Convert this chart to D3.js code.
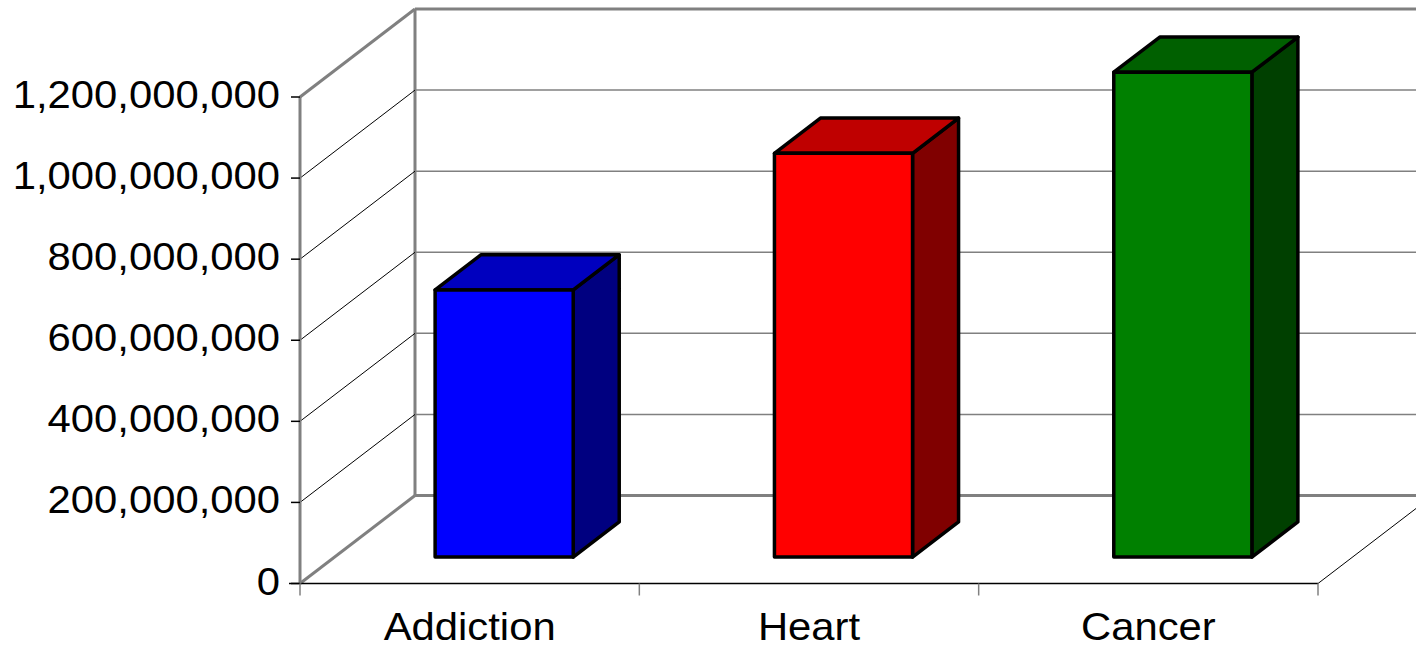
<!DOCTYPE html>
<html>
<head>
<meta charset="utf-8">
<script src="https://cdn.jsdelivr.net/npm/d3@7"></script>
<style>
  body { margin: 0; background: #fff; }
  svg { display: block; }
  text { font-family: "Liberation Sans", Arial, sans-serif; font-size: 38px; fill: #000; }
</style>
</head>
<body>
<div id="chart"></div>
<script>
// data
var categories = ["Addiction", "Heart", "Cancer"];
var values = [659000000, 996000000, 1196000000];
var yTicks = [0, 200000000, 400000000, 600000000, 800000000, 1000000000, 1200000000];
var frontColors = ["#0000ff", "#ff0000", "#008000"];
var topColors = ["#0000bf", "#bf0000", "#006000"];
var sideColors = ["#000080", "#800000", "#004000"];

var width = 1416, height = 647;
var depth = [115, -88]; // full depth vector of the plot box
var barFront = 0.3, barBack = 0.7; // bar position inside the depth

var svg = d3.select("#chart").append("svg")
    .attr("width", width)
    .attr("height", height);

var y = d3.scaleLinear().domain([0, 1200000000]).range([583.5, 97]);
var xCat = d3.scaleBand().domain(categories).range([300, 1318]);
var xBar = d3.scaleBand().domain(categories).range([300, 1318])
    .paddingInner(0.593).paddingOuter(0.2965);

var fmt = d3.format(",");
var gray = "#808080";

// ============================================================
// back wall
var wall = svg.append("g");
var backLeft = 300 + depth[0];
var backRight = 1318 + depth[0];
wall.selectAll(".grid")
    .data(yTicks.slice(1, -1))
    .enter()
    .append("line")
    .attr("x1", backLeft).attr("x2", backRight)
    .attr("y1", (d) => y(d) + depth[1]).attr("y2", (d) => y(d) + depth[1])
    .attr("stroke", gray).attr("stroke-width", 1.5);

// top and floor edges of back wall
[0, 1200000000].forEach(function(v) {
    wall.append("line")
        .attr("x1", backLeft).attr("x2", backRight)
        .attr("y1", y(v) + depth[1]).attr("y2", y(v) + depth[1])
        .attr("stroke", gray).attr("stroke-width", 3);
});
wall.append("line")
    .attr("x1", backLeft).attr("x2", backLeft)
    .attr("y1", y(1200000000) + depth[1]).attr("y2", y(0) + depth[1])
    .attr("stroke", gray).attr("stroke-width", 3);

// side wall diagonals
wall.selectAll(".diag")
    .data(yTicks)
    .enter()
    .append("line")
    .attr("x1", 300).attr("y1", (d) => y(d))
    .attr("x2", backLeft).attr("y2", (d) => y(d) + depth[1])
    .attr("stroke", (d, i) => (i == 0 || i == yTicks.length - 1) ? gray : "#000")
    .attr("stroke-width", (d, i) => (i == 0 || i == yTicks.length - 1) ? 3 : 1);

// floor right edge
wall.append("line")
    .attr("x1", 1318).attr("y1", y(0))
    .attr("x2", backRight).attr("y2", y(0) + depth[1])
    .attr("stroke", "#000").attr("stroke-width", 1);

// front floor line
wall.append("line")
    .attr("x1", 289).attr("x2", 1318)
    .attr("y1", y(0)).attr("y2", y(0))
    .attr("stroke", "#000").attr("stroke-width", 1.5);

// value axis
wall.append("line")
    .attr("x1", 300).attr("x2", 300)
    .attr("y1", y(1200000000)).attr("y2", y(0))
    .attr("stroke", gray).attr("stroke-width", 3);

wall.selectAll(".ytick")
    .data(yTicks)
    .enter()
    .append("line")
    .attr("x1", 291).attr("x2", 300)
    .attr("y1", (d) => y(d)).attr("y2", (d) => y(d))
    .attr("stroke", "#000").attr("stroke-width", 1.5);

// category ticks
var catEdges = categories.map((c) => xCat(c)).concat([xCat.range()[1]]);
wall.selectAll(".xtick")
    .data(catEdges)
    .enter()
    .append("line")
    .attr("x1", (d) => d).attr("x2", (d) => d)
    .attr("y1", y(0)).attr("y2", y(0) + 12)
    .attr("stroke", gray).attr("stroke-width", 1.5);

// ============================================================
// bars
var bars = svg.append("g")
    .attr("stroke", "#000")
    .attr("stroke-width", 3.5)
    .attr("stroke-linejoin", "round");

categories.forEach(function(c, i) {
    var x0 = xBar(c) + depth[0] * barFront;
    var x1 = x0 + xBar.bandwidth();
    var yb = y(0) + depth[1] * barFront;
    var yt = yb - (y(0) - y(values[i]));
    var t = barBack - barFront;
    var dx = depth[0] * t, dy = depth[1] * t;

    bars.append("polygon")
        .attr("points", [[x1, yt], [x1 + dx, yt + dy], [x1 + dx, yb + dy], [x1, yb]].join(" "))
        .attr("fill", sideColors[i]);
    bars.append("polygon")
        .attr("points", [[x0, yt], [x1, yt], [x1 + dx, yt + dy], [x0 + dx, yt + dy]].join(" "))
        .attr("fill", topColors[i]);
    bars.append("rect")
        .attr("x", x0).attr("y", yt)
        .attr("width", x1 - x0).attr("height", yb - yt)
        .attr("fill", frontColors[i]);
});

// ============================================================
// labels
svg.selectAll(".ylabel")
    .data(yTicks)
    .enter()
    .append("text")
    .attr("transform", (d) => "translate(280," + (y(d) + 11) + ") scale(1.1,1)")
    .attr("text-anchor", "end")
    .text((d) => fmt(d));

svg.selectAll(".xlabel")
    .data(categories)
    .enter()
    .append("text")
    .attr("transform", (d) => "translate(" + (xCat(d) + xCat.bandwidth() / 2) + ",640) scale(1.1,1)")
    .attr("text-anchor", "middle")
    .text((d) => d);
</script>
</body>
</html>
